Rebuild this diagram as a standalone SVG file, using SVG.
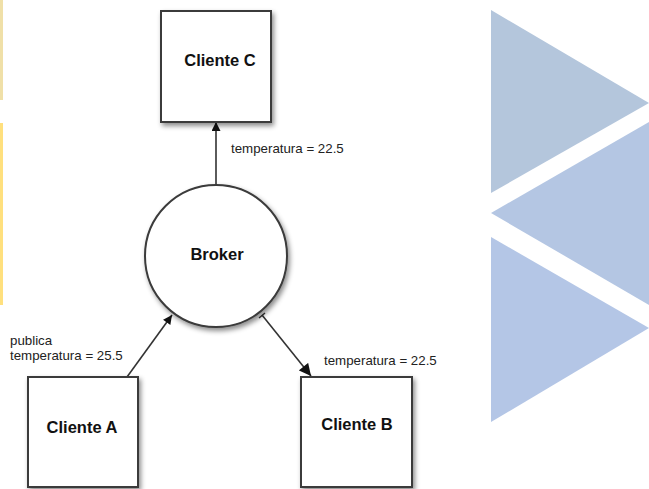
<svg xmlns="http://www.w3.org/2000/svg" width="649" height="489" viewBox="0 0 649 489">
<defs>
<style>
.node{fill:#fff;stroke:#3a3a3a;stroke-width:2}
.title{font-family:"Liberation Sans",Arial,sans-serif;font-weight:bold;font-size:16.5px;fill:#111;text-anchor:middle}
.lbl{font-family:"Liberation Sans",Arial,sans-serif;font-size:13.3px;fill:#222}
.edge{stroke:#333;stroke-width:1.6;fill:none}
</style>
<filter id="sh" x="-20%" y="-20%" width="150%" height="150%">
<feDropShadow dx="2" dy="3" stdDeviation="2.5" flood-color="#000" flood-opacity="0.45"/>
</filter>
<marker id="ah" viewBox="0 0 10 10" refX="10" refY="5" markerWidth="10" markerHeight="9" markerUnits="userSpaceOnUse" orient="auto">
<path d="M0,0 L10,5 L0,10 Z" fill="#111"/>
</marker>
<marker id="ahB" viewBox="0 0 10 10" refX="10" refY="5" markerWidth="13" markerHeight="12" markerUnits="userSpaceOnUse" orient="auto">
<path d="M0,0 L10,5 L0,10 Z" fill="#111"/>
</marker>
</defs>
<rect width="649" height="489" fill="#fff"/>
<g id="background">
<rect x="0" y="0" width="3" height="100" fill="#f0e0a8"/>
<rect x="0" y="123" width="3" height="182" fill="#ffe07e"/>
<polygon points="491,10 649,103 491,193" fill="#b4c6dc"/>
<polygon points="491,213 649,122 649,305" fill="#b4c6e3"/>
<polygon points="491,237 649,328 491,422" fill="#b4c6e6"/>
</g>
<g id="connectors">
<line class="edge" x1="216" y1="185" x2="216" y2="122" marker-end="url(#ah)"/>
<line class="edge" x1="127" y1="377" x2="172" y2="315" marker-end="url(#ah)"/>
<line class="edge" x1="262" y1="315" x2="311" y2="376" marker-end="url(#ahB)"/>
<line x1="259" y1="318" x2="265" y2="313" stroke="#333" stroke-width="1.4"/>
<text class="lbl" x="231" y="153">temperatura = 22.5</text>
<text class="lbl" x="324" y="365">temperatura = 22.5</text>
<text class="lbl" x="10" y="345">publica</text>
<text class="lbl" x="10" y="360">temperatura = 25.5</text>
</g>
<g id="clienteC">
<rect class="node" x="161" y="11" width="110" height="111" filter="url(#sh)"/>
<text class="title" x="220" y="66">Cliente C</text>
</g>
<g id="broker">
<circle class="node" cx="216" cy="256" r="71" filter="url(#sh)"/>
<text class="title" x="217" y="260">Broker</text>
</g>
<g id="clienteA">
<rect class="node" x="28" y="377" width="110" height="110" filter="url(#sh)"/>
<text class="title" x="82" y="433">Cliente A</text>
</g>
<g id="clienteB">
<rect class="node" x="301" y="377" width="111" height="110" filter="url(#sh)"/>
<text class="title" x="357" y="430">Cliente B</text>
</g>
</svg>
